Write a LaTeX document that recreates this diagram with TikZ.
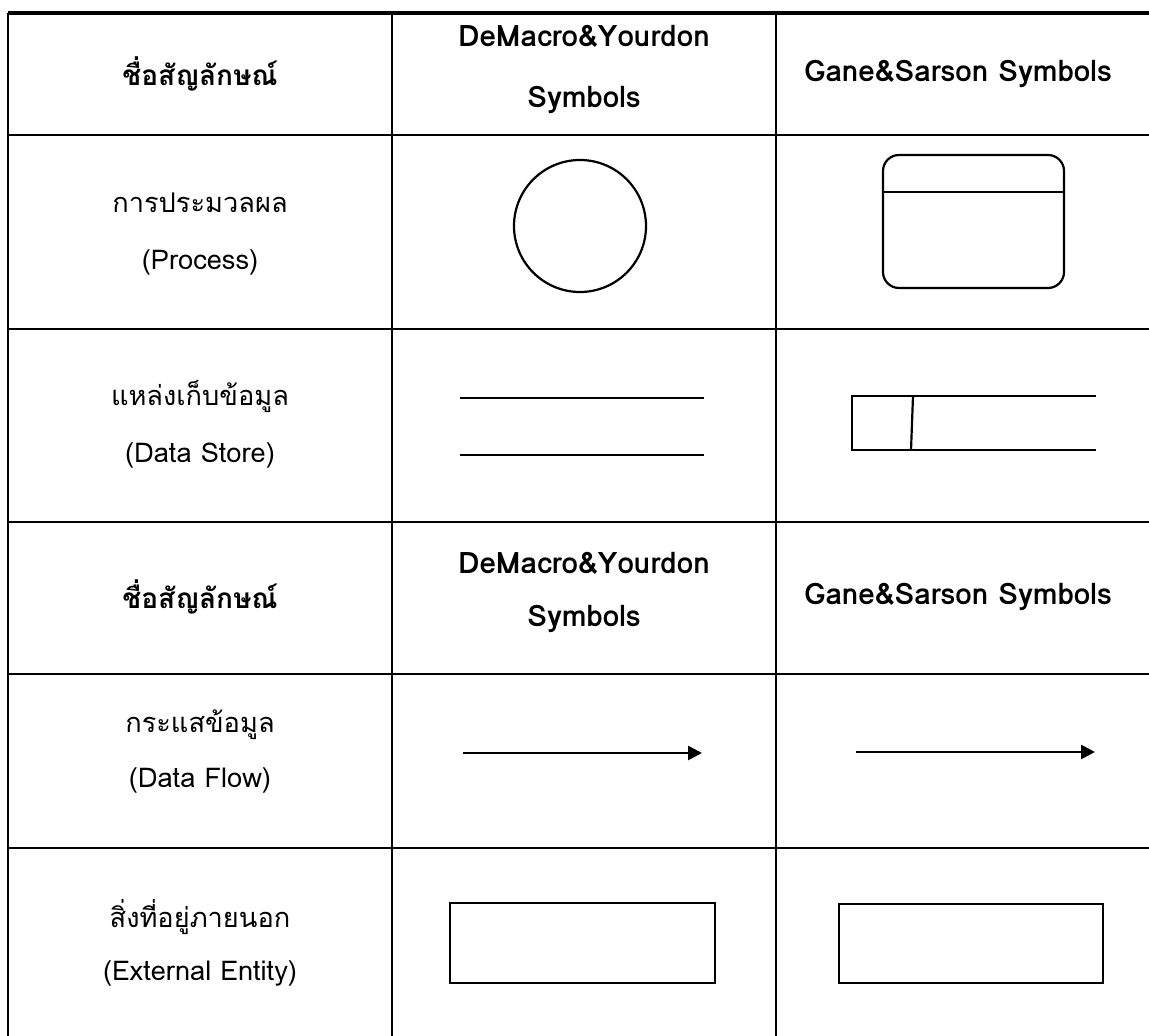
\documentclass[tikz,border=0pt]{standalone}
\usepackage{fontspec}
\setmainfont[Script=Thai]{Loma}
\usetikzlibrary{arrows.meta}

\begin{document}
\begin{tikzpicture}[x=0.5pt,y=-0.5pt,
                    rule/.style={line width=1.4pt},
                    sym/.style={draw,line width=1.1pt},
                    body/.style={font=\fontsize{13.6}{16}\selectfont},
                    head/.style={font=\bfseries\fontsize{14}{16}\selectfont},
                    headlat/.style={font=\bfseries\fontsize{14.8}{17}\selectfont},
                    flow/.style={line width=1.3pt,-{Triangle[length=7pt,width=7pt]}}]

  \useasboundingbox (0,0) rectangle (1149,1036);
  \clip (0,0) rectangle (1149,1036);

  % table rules
  \draw[line width=1.7pt] (8,13) -- (1149,13);
  \foreach \y in {135,329,522,674,848}
    \draw[rule] (8,\y) -- (1149,\y);
  \foreach \x in {8,392,776}
    \draw[line width=1.1pt] (\x,13) -- (\x,1036);

  % header rows
  \node[head]    (nameA) at (200,74)  {ชื่อสัญลักษณ์};
  \node[headlat] (dyA1)  at (584,36)  {DeMacro\&Yourdon};
  \node[headlat] (dyA2)  at (584,100) {Symbols};
  \node[headlat] (gsA)   at (958,74)  {Gane\&Sarson Symbols};

  \node[head]    (nameB) at (200,597) {ชื่อสัญลักษณ์};
  \node[headlat] (dyB1)  at (584,563) {DeMacro\&Yourdon};
  \node[headlat] (dyB2)  at (584,619) {Symbols};
  \node[headlat] (gsB)   at (958,597) {Gane\&Sarson Symbols};

  % names
  \node[body] (procTh)  at (200,203) {การประมวลผล};
  \node[body] (procEn)  at (200,262) {(Process)};
  \node[body] (storeTh) at (200,396) {แหล่งเก็บข้อมูล};
  \node[body] (storeEn) at (200,455) {(Data Store)};
  \node[body] (flowTh)  at (200,725) {กระแสข้อมูล};
  \node[body] (flowEn)  at (200,780) {(Data Flow)};
  \node[body] (entTh)   at (200,917) {สิ่งที่อยู่ภายนอก};
  \node[body] (entEn)   at (200,973) {(External Entity)};

  % process
  \node[sym,circle,minimum size=66pt] (dyProc) at (580,226) {};
  \node[sym,rounded corners=8pt,minimum width=90.5pt,minimum height=66.5pt]
        (gsProc) at (973.5,221.5) {};
  \draw[line width=1.1pt] ([yshift=-19pt]gsProc.north west)
                       -- ([yshift=-19pt]gsProc.north east);

  % data store
  \draw[line width=1.2pt] (460,398) -- (704,398);
  \draw[line width=1.2pt] (460,455) -- (704,455);
  \draw[line width=1.1pt] (1096,396) -- (852,396) -- (852,450) -- (1096,450);
  \draw[line width=1.1pt] (913,396) -- (911,450);

  % data flow
  \coordinate (dyFlowA) at (463,753);
  \coordinate (dyFlowB) at (702,753);
  \coordinate (gsFlowA) at (856,752);
  \coordinate (gsFlowB) at (1095,752);
  \draw[flow] (dyFlowA) -- (dyFlowB);
  \draw[flow] (gsFlowA) -- (gsFlowB);

  % external entity
  \node[sym,minimum width=132.5pt,minimum height=40pt] (dyEnt) at (582.5,943) {};
  \node[sym,minimum width=132pt,minimum height=39.5pt] (gsEnt) at (971,943.5) {};
\end{tikzpicture}
\end{document}
